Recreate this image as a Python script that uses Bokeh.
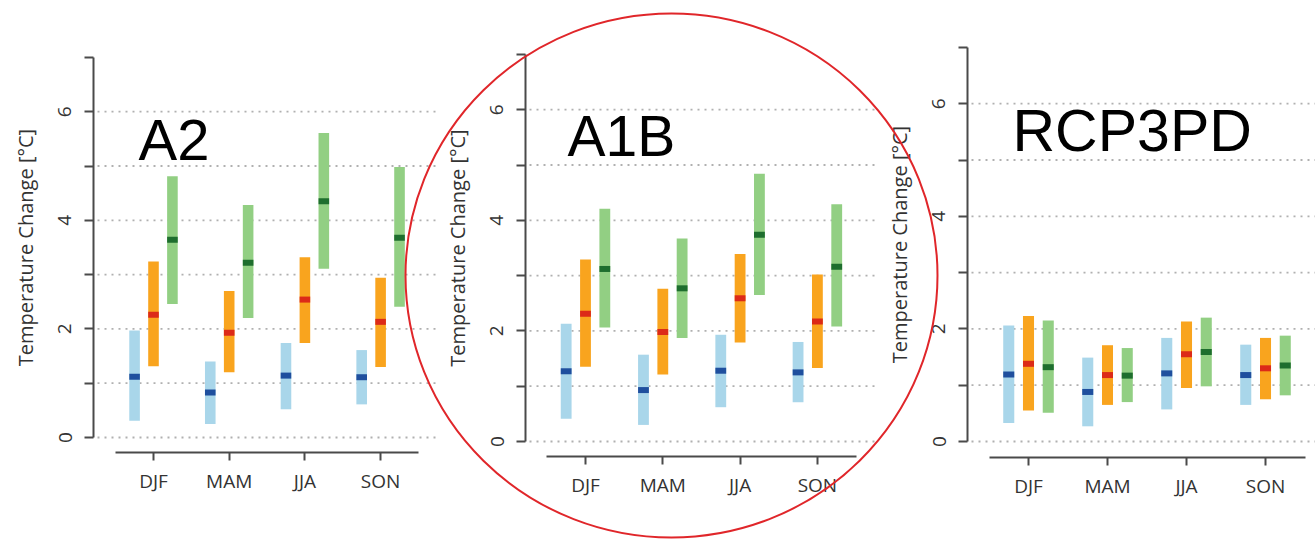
from bokeh.plotting import figure
from bokeh.models import Range1d, LinearAxis, FixedTicker
from bokeh.core.properties import value
from bokeh.embed import file_html
from bokeh.resources import INLINE

# ---------------- data ----------------
seasons = ["DJF", "MAM", "JJA", "SON"]
scenarios = ["A2", "A1B", "RCP3PD"]
y_ticks = [0, 1, 2, 3, 4, 5, 6, 7]
y_tick_labels = ["0", "", "2", "", "4", "", "6", ""]
grid_values = [0, 1, 2, 3, 4, 5, 6]

# A2 scenario (low / median / high) for the three ranges
a2_blue_lo = [0.31, 0.25, 0.52, 0.61]
a2_blue_med = [1.12, 0.83, 1.14, 1.11]
a2_blue_hi = [1.97, 1.40, 1.74, 1.61]
a2_orange_lo = [1.31, 1.20, 1.74, 1.30]
a2_orange_med = [2.26, 1.93, 2.54, 2.13]
a2_orange_hi = [3.24, 2.70, 3.32, 2.94]
a2_green_lo = [2.46, 2.20, 3.11, 2.41]
a2_green_med = [3.64, 3.22, 4.35, 3.68]
a2_green_hi = [4.81, 4.28, 5.61, 4.98]

# A1B scenario
a1b_blue_lo = [0.41, 0.30, 0.62, 0.71]
a1b_blue_med = [1.27, 0.93, 1.28, 1.25]
a1b_blue_hi = [2.13, 1.57, 1.93, 1.80]
a1b_orange_lo = [1.35, 1.21, 1.79, 1.33]
a1b_orange_med = [2.31, 1.98, 2.59, 2.17]
a1b_orange_hi = [3.29, 2.76, 3.39, 3.02]
a1b_green_lo = [2.06, 1.87, 2.65, 2.08]
a1b_green_med = [3.12, 2.77, 3.74, 3.16]
a1b_green_hi = [4.21, 3.67, 4.84, 4.29]

# RCP3PD scenario
rcp_blue_lo = [0.33, 0.27, 0.57, 0.65]
rcp_blue_med = [1.19, 0.88, 1.21, 1.18]
rcp_blue_hi = [2.06, 1.49, 1.84, 1.72]
rcp_orange_lo = [0.55, 0.65, 0.95, 0.75]
rcp_orange_med = [1.38, 1.18, 1.55, 1.30]
rcp_orange_hi = [2.23, 1.71, 2.13, 1.84]
rcp_green_lo = [0.51, 0.70, 0.98, 0.82]
rcp_green_med = [1.32, 1.17, 1.59, 1.35]
rcp_green_hi = [2.15, 1.66, 2.20, 1.88]

scenario_data = {
    "A2": [(a2_blue_lo, a2_blue_med, a2_blue_hi),
           (a2_orange_lo, a2_orange_med, a2_orange_hi),
           (a2_green_lo, a2_green_med, a2_green_hi)],
    "A1B": [(a1b_blue_lo, a1b_blue_med, a1b_blue_hi),
            (a1b_orange_lo, a1b_orange_med, a1b_orange_hi),
            (a1b_green_lo, a1b_green_med, a1b_green_hi)],
    "RCP3PD": [(rcp_blue_lo, rcp_blue_med, rcp_blue_hi),
               (rcp_orange_lo, rcp_orange_med, rcp_orange_hi),
               (rcp_green_lo, rcp_green_med, rcp_green_hi)],
}

# ---------------- styles / layout ----------------
bar_colors = ["#a9d6ea", "#f9a41e", "#92cf83"]
median_colors = ["#1f4f9e", "#dc2a18", "#1e6e2e"]
offsets = [-0.25, 0.0, 0.25]
BAR_W = 0.14

W, H = 1315, 539
PX0, PY0 = 0, 0  # canvas origin in screenshot coordinates

# per panel pixel anchors (screenshot coordinates)
layout = {
    "A2":     dict(axis_x=93,  cat1=153,  dx=75.7, y0=437, dy=54.3, xaxis_y=452, grid_end=438,
                   title_x=138, title_base=162, title_size=58),
    "A1B":    dict(axis_x=525, cat1=585,  dx=77.3, y0=441, dy=55.3, xaxis_y=456, grid_end=877,
                   title_x=567, title_base=158, title_size=57),
    "RCP3PD": dict(axis_x=967, cat1=1028, dx=79.0, y0=441, dy=56.3, xaxis_y=457, grid_end=1315,
                   title_x=1012, title_base=153, title_size=59),
}
TITLE_SHIFT = 23  # empirical baseline correction for the title text glyph

p = figure(width=W, height=H,
           x_range=Range1d(PX0, PX0 + W), y_range=Range1d(PY0 + H, PY0),
           x_axis_type=None, y_axis_type=None,
           toolbar_location=None, output_backend="svg",
           min_border=0, outline_line_color=None)
p.background_fill_color = "white"

FONT = "Open Sans"
AXIS_COLOR = "#4a4a4a"
TEXT_COLOR = "#333333"
FS = "19px"

p.extra_x_ranges = {}
p.extra_y_ranges = {}

for name in scenarios:
    L = layout[name]
    xn, yn = name + "_x", name + "_y"

    def px2x(px, L=L):
        return 1 + (px - L["cat1"]) / L["dx"]

    def py2y(py, L=L):
        return (L["y0"] - py) / L["dy"]

    p.extra_x_ranges[xn] = Range1d(px2x(PX0), px2x(PX0 + W))
    p.extra_y_ranges[yn] = Range1d(py2y(PY0 + H), py2y(PY0))

    # dotted horizontal reference lines
    n = len(grid_values)
    p.segment(x0=[px2x(L["axis_x"] + 4)] * n, x1=[px2x(L["grid_end"])] * n,
              y0=grid_values, y1=grid_values,
              line_color="#b0b0b0", line_width=1.8, line_dash="2 5",
              x_range_name=xn, y_range_name=yn)

    # bars and medians
    for (lo, med, hi), off, bc, mc in zip(scenario_data[name], offsets, bar_colors, median_colors):
        xs = [i + 1 + off for i in range(len(seasons))]
        p.vbar(x=xs, bottom=lo, top=hi, width=BAR_W, fill_color=bc, line_color=None,
               x_range_name=xn, y_range_name=yn)
        p.rect(x=xs, y=med, width=BAR_W, height=6, height_units="screen",
               fill_color=mc, line_color=None, x_range_name=xn, y_range_name=yn)

    # y axis
    yax = LinearAxis(x_range_name=xn, y_range_name=yn,
                     fixed_location=px2x(L["axis_x"]), bounds=(0, 7),
                     ticker=FixedTicker(ticks=y_ticks),
                     major_label_overrides={t: s for t, s in zip(y_ticks, y_tick_labels)},
                     axis_label="Temperature Change [°C]")
    yax.major_label_orientation = "parallel"
    yax.axis_line_color = AXIS_COLOR
    yax.axis_line_width = 2
    yax.major_tick_line_color = AXIS_COLOR
    yax.major_tick_line_width = 2
    yax.major_tick_out = 9
    yax.major_tick_in = 0
    yax.minor_tick_line_color = None
    yax.major_label_standoff = 13
    yax.major_label_text_font = FONT
    yax.major_label_text_font_size = FS
    yax.major_label_text_color = TEXT_COLOR
    yax.axis_label_text_font = FONT
    yax.axis_label_text_font_size = "20px"
    yax.axis_label_text_font_style = "normal"
    yax.axis_label_text_color = TEXT_COLOR
    yax.axis_label_standoff = 17
    p.add_layout(yax, "left")

    # x axis
    xax = LinearAxis(x_range_name=xn, y_range_name=yn,
                     fixed_location=py2y(L["xaxis_y"]), bounds=(0.5, 4.5),
                     ticker=FixedTicker(ticks=[1, 2, 3, 4]),
                     major_label_overrides={i + 1: s for i, s in enumerate(seasons)})
    xax.axis_line_color = AXIS_COLOR
    xax.axis_line_width = 2
    xax.major_tick_line_color = AXIS_COLOR
    xax.major_tick_line_width = 2
    xax.major_tick_out = 8
    xax.major_tick_in = 0
    xax.minor_tick_line_color = None
    xax.major_label_standoff = 7
    xax.major_label_text_font = FONT
    xax.major_label_text_font_size = FS
    xax.major_label_text_color = TEXT_COLOR
    p.add_layout(xax, "below")

    # panel title
    p.text(x=[px2x(L["title_x"])], y=[py2y(L["title_base"] - TITLE_SHIFT)], text=[name],
           text_font=value("Liberation Sans"), text_font_size="%dpx" % L["title_size"],
           text_color="black", text_baseline="alphabetic", text_align="left",
           x_range_name=xn, y_range_name=yn)

# red highlight ellipse around the A1B panel (screenshot pixel frame)
p.ellipse(x=[671], y=[275], width=532, height=524, width_units="screen", height_units="screen",
          fill_color=None, line_color="#e0262a", line_width=2, level="overlay")

open("out.html", "w").write(file_html(p, INLINE))
